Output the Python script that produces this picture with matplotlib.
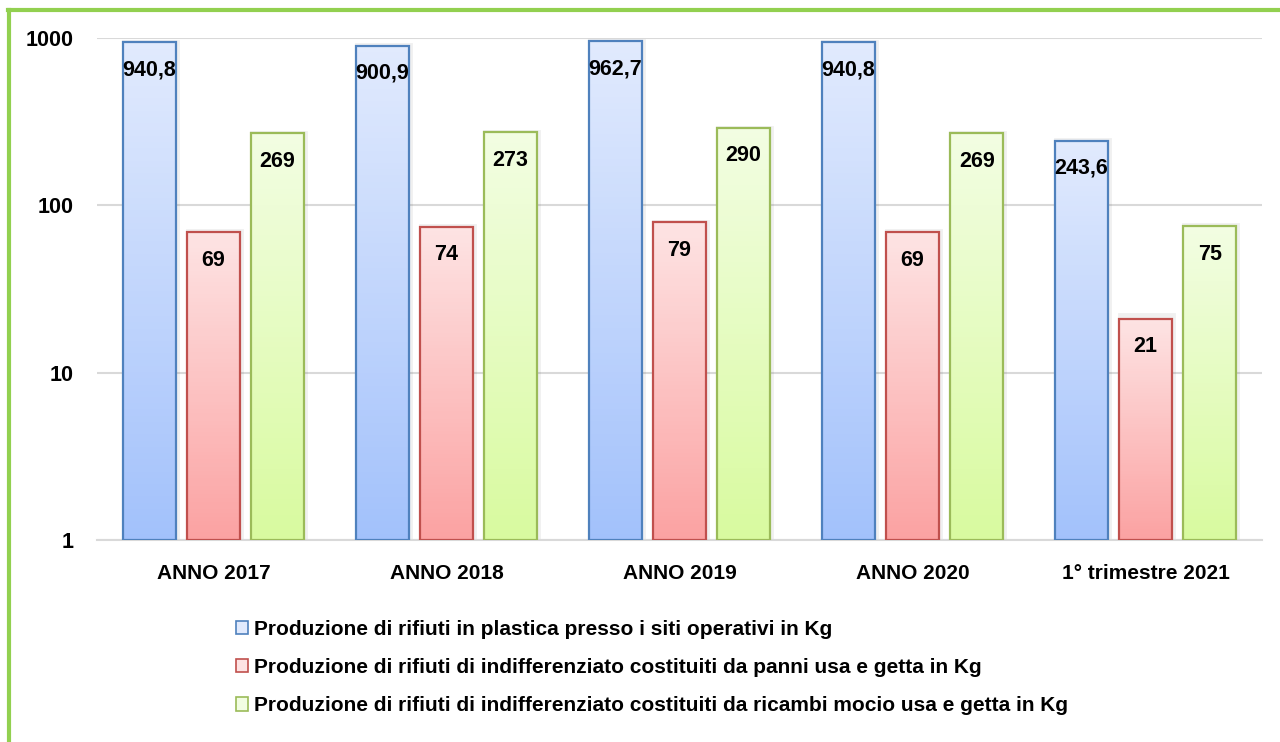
import numpy as np
import matplotlib
matplotlib.use("Agg")
import matplotlib.pyplot as plt
from matplotlib.patches import Patch
from matplotlib.lines import Line2D
from matplotlib.colors import to_rgb

categories = ["ANNO 2017", "ANNO 2018", "ANNO 2019", "ANNO 2020", "1° trimestre 2021"]
plastica = [940.8, 900.9, 962.7, 940.8, 243.6]
panni = [69, 74, 79, 69, 21]
mocio = [269, 273, 290, 269, 75]
plastica_labels = ["940,8", "900,9", "962,7", "940,8", "243,6"]
panni_labels = ["69", "74", "79", "69", "21"]
mocio_labels = ["269", "273", "290", "269", "75"]
series_names = [
    "Produzione di rifiuti in plastica presso i siti operativi in Kg",
    "Produzione di rifiuti di indifferenziato costituiti da panni usa e getta in Kg",
    "Produzione di rifiuti di indifferenziato costituiti da ricambi mocio usa e getta in Kg",
]
yticks = [1, 10, 100, 1000]

plt.rcParams['font.family'] = ['Liberation Sans', 'DejaVu Sans']
plt.rcParams['font.weight'] = 'bold'

# styles: (top colour, bottom colour, edge colour)
styles = [
    ("#e1eafd", "#a2c1fb", "#4f81bd"),
    ("#fde3e3", "#fba2a2", "#c0504d"),
    ("#f2fde2", "#d8fa9f", "#9bbb59"),
]

fig = plt.figure(figsize=(12.8, 7.42), dpi=100)
ax = fig.add_axes([0.0758, 0.2722, 0.9102, 0.6766])
ax.set_yscale('log')
ax.set_ylim(1, 1000)
ax.set_xlim(-0.5, len(categories) - 0.5)

x = np.arange(len(categories))
offsets = [-0.275, 0.0, 0.275]
width = 0.227
data = [plastica, panni, mocio]
labels = [plastica_labels, panni_labels, mocio_labels]

nseg = 80
for s, (vals, labs, (ctop, cbot, cedge)) in enumerate(zip(data, labels, styles)):
    xs = x + offsets[s]
    ctop_rgb = np.array(to_rgb(ctop))
    cbot_rgb = np.array(to_rgb(cbot))
    for xi, v, lab in zip(xs, vals, labs):
        # soft shadow
        ax.bar(xi + 0.004, v, width=width, bottom=1, color='none', edgecolor='#000000',
               alpha=0.06, lw=3.5, zorder=2)
        edges = np.logspace(0, np.log10(v), nseg + 1)
        for k in range(nseg):
            t = k / (nseg - 1)
            col = cbot_rgb * (1 - t) + ctop_rgb * t
            ax.bar(xi, edges[k + 1] - edges[k], width=width, bottom=edges[k],
                   color=col, edgecolor='none', lw=0, zorder=3)
        ax.bar(xi, v - 1, width=width, bottom=1, color='none', edgecolor=cedge,
               lw=1.6, zorder=4)
        ax.annotate(lab, (xi, v), xytext=(0, -20), textcoords='offset points',
                    ha='center', va='center', fontsize=15.5, fontweight='bold',
                    color='black', zorder=5)

ax.set_yticks(yticks)
ax.set_yticklabels([str(t) for t in yticks], fontsize=15.5, fontweight='bold')
ax.yaxis.set_minor_locator(matplotlib.ticker.NullLocator())
ax.set_xticks(x)
ax.set_xticklabels(categories, fontsize=15, fontweight='bold')
ax.tick_params(axis='both', length=0)
ax.tick_params(axis='y', pad=17)
ax.tick_params(axis='x', pad=17.5)
ax.grid(axis='y', color='#d9d9d9', lw=1.5, zorder=0)
ax.set_axisbelow(True)
for sp in ['top', 'right', 'left']:
    ax.spines[sp].set_visible(False)
ax.spines['bottom'].set_color('#d9d9d9')
ax.spines['bottom'].set_linewidth(1.5)

handles = [Patch(facecolor=st[0], edgecolor=st[2], lw=1.2) for st in styles]
fig.legend(handles, series_names, loc='upper left', bbox_to_anchor=(0.184, 0.165),
           frameon=False, prop={'weight': 'bold', 'size': 15},
           handlelength=0.6, handleheight=0.6, handletextpad=0.3,
           labelspacing=0.93, borderaxespad=0, borderpad=0)

# green frame
fig.add_artist(Line2D([9 / 1280, 9 / 1280], [0, 1 - 9.5 / 742], color='#92d050', lw=3,
                      transform=fig.transFigure))
fig.add_artist(Line2D([9 / 1280 - 0.001, 1], [1 - 9.5 / 742, 1 - 9.5 / 742], color='#92d050',
                      lw=3, transform=fig.transFigure))

fig.savefig("out.png", dpi=100)
